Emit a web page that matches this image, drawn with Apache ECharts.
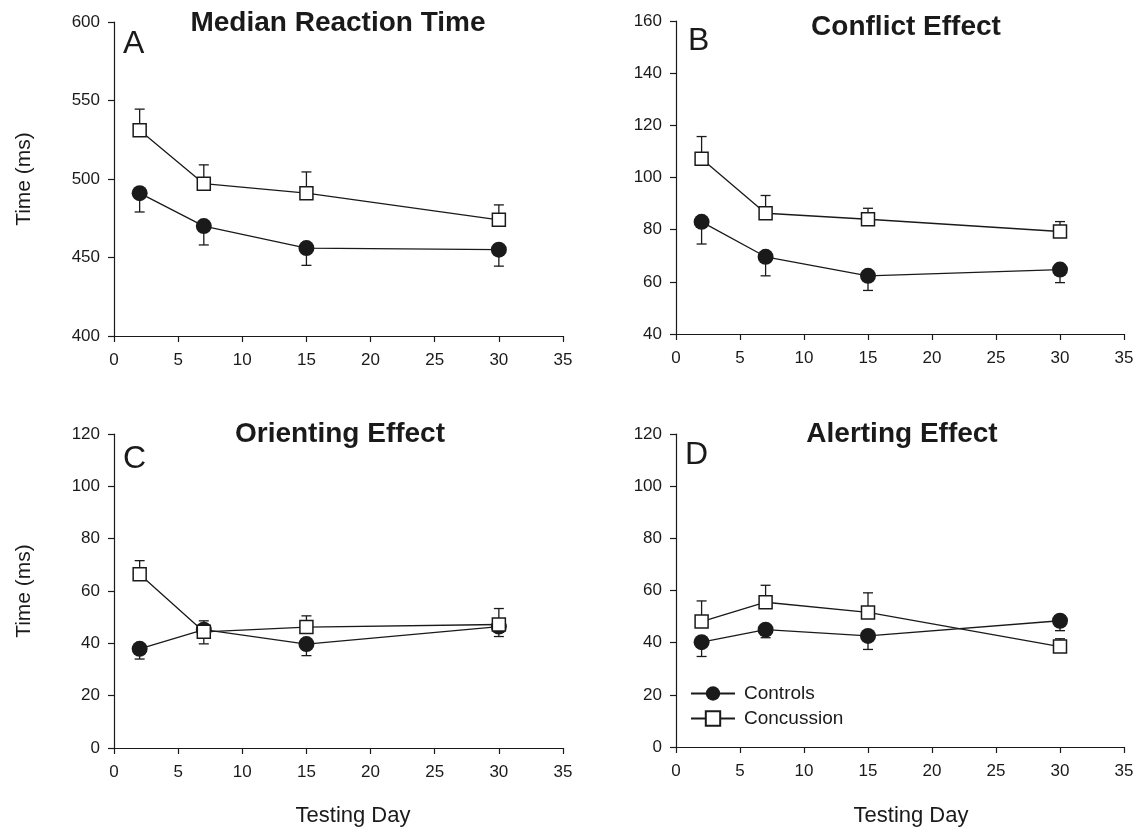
<!DOCTYPE html>
<html>
<head>
<meta charset="utf-8">
<script src="https://cdn.jsdelivr.net/npm/echarts@6/dist/echarts.min.js"></script>
<style>
html,body{margin:0;padding:0;background:#fff;}
#chart{width:1137px;height:831px;}
</style>
</head>
<body>
<div id="chart"></div>
<script>
// ---- data ----
const days = [2, 7, 15, 30];
const panelTitles = ['Median Reaction Time', 'Conflict Effect', 'Orienting Effect', 'Alerting Effect'];
const panelLetters = ['A', 'B', 'C', 'D'];
const seriesNames = ['Controls', 'Concussion'];

const rtControls = [491, 470, 456, 455];
const rtControlsErr = [12, 12, 11, 10.5];
const rtConcussion = [531, 497, 491, 474];
const rtConcussionErr = [13.5, 12, 13.5, 9.5];

const conflictControls = [83, 69.6, 62.3, 64.7];
const conflictControlsErr = [8.5, 7.3, 5.6, 5];
const conflictConcussion = [107.2, 86.3, 84, 79.3];
const conflictConcussionErr = [8.5, 6.8, 4.2, 3.8];

const orientControls = [37.9, 45.2, 39.7, 46.4];
const orientControlsErr = [3.9, 5.4, 4.4, 3.8];
const orientConcussion = [66.4, 44.4, 46.2, 47.2];
const orientConcussionErr = [5.2, 4.2, 4.3, 6.1];

const alertControls = [40.2, 45, 42.6, 48.4];
const alertControlsErr = [5.5, 3.1, 5.2, 3.8];
const alertConcussion = [48.1, 55.5, 51.6, 38.5];
const alertConcussionErr = [7.9, 6.5, 7.5, 3];

const yMins = [400, 40, 0, 0];
const yMaxs = [600, 160, 120, 120];
const yIntervals = [50, 20, 20, 20];
const xMin = 0, xMax = 35, xInterval = 5;

// ---- build ----
const panels = [
  [rtControls, rtControlsErr, rtConcussion, rtConcussionErr],
  [conflictControls, conflictControlsErr, conflictConcussion, conflictConcussionErr],
  [orientControls, orientControlsErr, orientConcussion, orientConcussionErr],
  [alertControls, alertControlsErr, alertConcussion, alertConcussionErr]
];
const grids = [
  {left: 114, top: 22, width: 449, height: 314},
  {left: 676, top: 21, width: 448, height: 313},
  {left: 114, top: 434, width: 449, height: 314},
  {left: 676, top: 434, width: 448, height: 313}
];
const FONT = 'Liberation Sans, Arial, Helvetica, sans-serif';
const INK = '#1a1a1a';

const axisCommon = {
  axisLine: {show: true, onZero: false, lineStyle: {color: INK, width: 1.2}},
  axisTick: {show: true, inside: false, length: 6, lineStyle: {color: INK, width: 1.2}},
  splitLine: {show: false},
  axisLabel: {color: INK, fontSize: 17, fontFamily: FONT}
};

const xAxes = grids.map((g, i) => Object.assign({}, axisCommon, {
  type: 'value', gridIndex: i, min: xMin, max: xMax, interval: xInterval,
  axisLabel: Object.assign({}, axisCommon.axisLabel, {margin: 16})
}));
const yAxes = grids.map((g, i) => Object.assign({}, axisCommon, {
  type: 'value', gridIndex: i, min: yMins[i], max: yMaxs[i], interval: yIntervals[i],
  axisLabel: Object.assign({}, axisCommon.axisLabel, {margin: 14}),
  name: (i === 0 || i === 2) ? 'Time (ms)' : '',
  nameLocation: 'middle', nameGap: 79,
  nameTextStyle: {color: INK, fontSize: 21, fontFamily: FONT}
}));

function errRender(params, api) {
  const p0 = api.coord([api.value(0), api.value(1)]);
  const p1 = api.coord([api.value(0), api.value(2)]);
  const hw = 5;
  const st = {stroke: INK, lineWidth: 1.3};
  return {type: 'group', children: [
    {type: 'line', shape: {x1: p0[0], y1: p0[1], x2: p1[0], y2: p1[1]}, style: st},
    {type: 'line', shape: {x1: p1[0] - hw, y1: p1[1], x2: p1[0] + hw, y2: p1[1]}, style: st}
  ]};
}

const series = [];
panels.forEach((pd, i) => {
  const [cv, ce, kv, ke] = pd;
  series.push({
    type: 'custom', xAxisIndex: i, yAxisIndex: i, z: 1, silent: true,
    renderItem: errRender, encode: {x: 0, y: [1, 2]},
    data: days.map((d, j) => [d, cv[j], cv[j] - ce[j]])
  });
  series.push({
    type: 'custom', xAxisIndex: i, yAxisIndex: i, z: 1, silent: true,
    renderItem: errRender, encode: {x: 0, y: [1, 2]},
    data: days.map((d, j) => [d, kv[j], kv[j] + ke[j]])
  });
  series.push({
    name: seriesNames[0], type: 'line', xAxisIndex: i, yAxisIndex: i, z: 2,
    symbol: 'circle', symbolSize: 16,
    itemStyle: {color: INK, borderColor: INK, borderWidth: 0},
    lineStyle: {color: INK, width: 1.3},
    emphasis: {disabled: true}, animation: false,
    data: days.map((d, j) => [d, cv[j]])
  });
  series.push({
    name: seriesNames[1], type: 'line', xAxisIndex: i, yAxisIndex: i, z: 3,
    symbol: 'rect', symbolSize: 13,
    itemStyle: {color: '#ffffff', borderColor: INK, borderWidth: 1.5},
    lineStyle: {color: INK, width: 1.3},
    emphasis: {disabled: true}, animation: false,
    data: days.map((d, j) => [d, kv[j]])
  });
});

const titleCenters = [[338, 9], [906, 13], [340, 420], [902, 420]];
const letterPos = [[123, 28], [688, 25], [123, 443], [685, 439]];
const titles = [];
panelTitles.forEach((t, i) => {
  titles.push({
    text: t, left: titleCenters[i][0], top: titleCenters[i][1], textAlign: 'center', padding: 0,
    textStyle: {fontSize: 28, fontWeight: 'bold', color: INK, fontFamily: FONT}
  });
  titles.push({
    text: panelLetters[i], left: letterPos[i][0], top: letterPos[i][1], padding: 0,
    textStyle: {fontSize: 32, fontWeight: 'normal', color: INK, fontFamily: FONT}
  });
});

const option = {
  backgroundColor: '#ffffff',
  animation: false,
  title: titles,
  grid: grids,
  xAxis: xAxes,
  yAxis: yAxes,
  legend: {
    data: seriesNames, orient: 'vertical', left: 690, top: 684,
    itemWidth: 44, itemHeight: 18, itemGap: 6, padding: 0,
    textStyle: {fontSize: 19, color: INK, fontFamily: FONT, padding: [0, 0, 0, 4]},
    selectedMode: false
  },
  graphic: [
    {type: 'text', x: 353, y: 805, style: {text: 'Testing Day', fontSize: 22, fontFamily: FONT, fill: INK, align: 'center', verticalAlign: 'top'}},
    {type: 'text', x: 911, y: 805, style: {text: 'Testing Day', fontSize: 22, fontFamily: FONT, fill: INK, align: 'center', verticalAlign: 'top'}}
  ],
  series: series
};

const chart = echarts.init(document.getElementById('chart'), null, {renderer: 'canvas'});
chart.setOption(option);
</script>
</body>
</html>
